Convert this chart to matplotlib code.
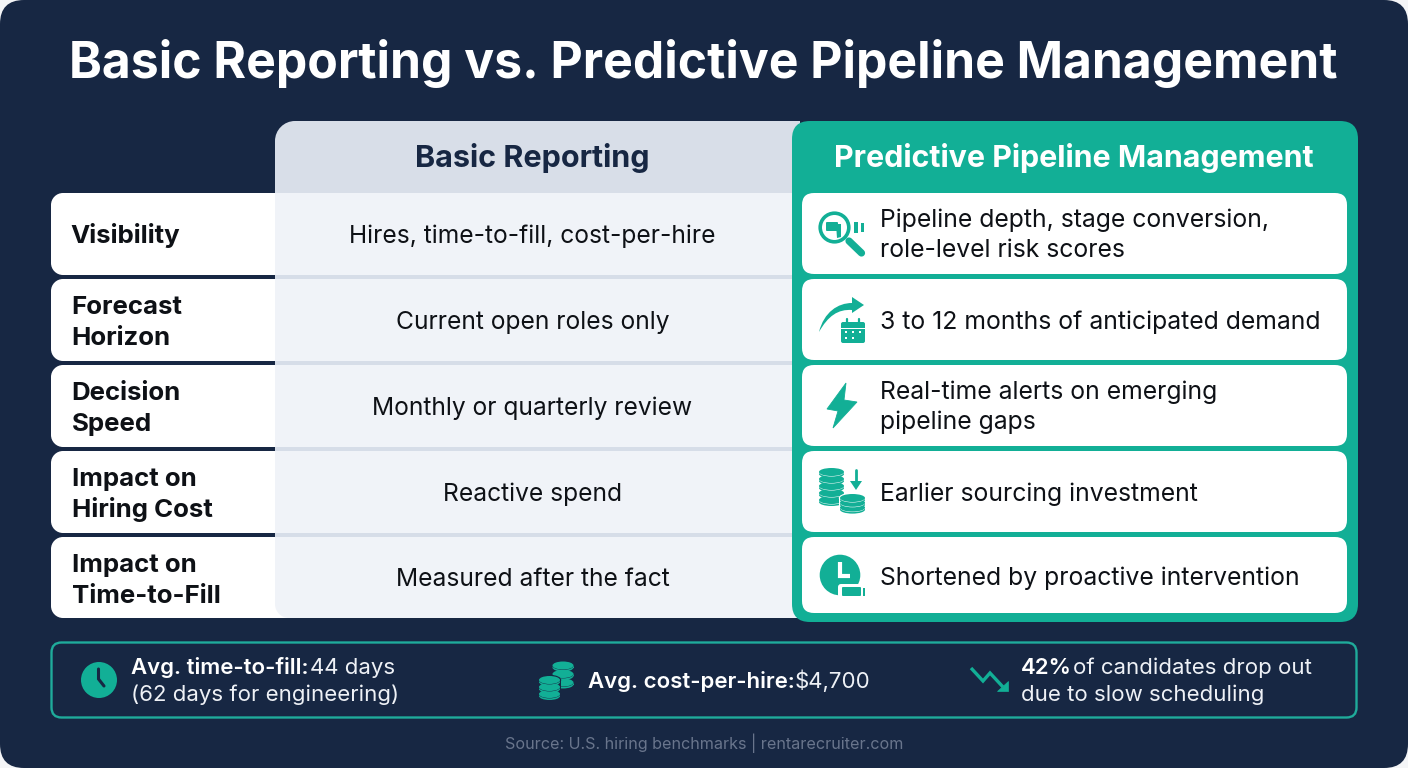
import numpy as np
import matplotlib
matplotlib.use("Agg")
import matplotlib.pyplot as plt
from matplotlib.patches import FancyBboxPatch, Rectangle, Circle, Polygon, Ellipse, PathPatch
from matplotlib.path import Path

TITLE = "Basic Reporting vs. Predictive Pipeline Management"
COL_BASIC = "Basic Reporting"
COL_PRED = "Predictive Pipeline Management"
ROW_LABELS = ["Visibility", "Forecast\nHorizon", "Decision\nSpeed", "Impact on\nHiring Cost", "Impact on\nTime-to-Fill"]
BASIC_VALUES = ["Hires, time-to-fill, cost-per-hire", "Current open roles only", "Monthly or quarterly review",
                "Reactive spend", "Measured after the fact"]
PRED_VALUES = ["Pipeline depth, stage conversion,\nrole-level risk scores", "3 to 12 months of anticipated demand",
               "Real-time alerts on emerging\npipeline gaps", "Earlier sourcing investment",
               "Shortened by proactive intervention"]
SOURCE = "Source: U.S. hiring benchmarks | rentarecruiter.com"

NAVY = "#172743"; TEAL = "#12AF96"; WHITE = "#FFFFFF"; INK = "#0E1116"
HEAD_GREY = "#D8DEE8"; PANEL = "#F0F3F8"; RULE = "#D6DDE8"; SOFT = "#EEF1F6"
FONT = "Inter"
W, H = 1408, 768
fig = plt.figure(figsize=(W/100, H/100), dpi=100, facecolor="#F4F5F7")
ax = fig.add_axes([0, 0, 1, 1]); ax.set_xlim(0, W); ax.set_ylim(H, 0); ax.axis("off")

def rbox(x0, y0, x1, y1, r, fc, ec="none", lw=0, z=1):
    p = FancyBboxPatch((x0+r, y0+r), x1-x0-2*r, y1-y0-2*r, boxstyle=f"round,pad={r},rounding_size={r}",
                       fc=fc, ec=ec, lw=lw, zorder=z, mutation_aspect=1)
    ax.add_patch(p); return p

def partial(x0, y0, x1, y1, r, corners, fc, z=1):
    tl, tr, br, bl = [r if c else 0 for c in corners]
    k = 0.5523
    v = [(x0+tl, y0), (x1-tr, y0), (x1-tr+k*tr, y0), (x1, y0+tr-k*tr), (x1, y0+tr), (x1, y1-br),
         (x1, y1-br+k*br), (x1-br+k*br, y1), (x1-br, y1), (x0+bl, y1), (x0+bl-k*bl, y1), (x0, y1-bl+k*bl),
         (x0, y1-bl), (x0, y0+tl), (x0, y0+tl-k*tl), (x0+tl-k*tl, y0), (x0+tl, y0), (x0+tl, y0)]
    c = [Path.MOVETO, Path.LINETO, Path.CURVE4, Path.CURVE4, Path.CURVE4, Path.LINETO, Path.CURVE4, Path.CURVE4,
         Path.CURVE4, Path.LINETO, Path.CURVE4, Path.CURVE4, Path.CURVE4, Path.LINETO, Path.CURVE4, Path.CURVE4,
         Path.CURVE4, Path.CLOSEPOLY]
    ax.add_patch(PathPatch(Path(v, c), fc=fc, ec="none", lw=0, zorder=z))

def text(x, y, s, size, color=INK, weight="regular", ha="left", va="center", z=6):
    return ax.text(x, y + 2, s, fontsize=size, color=color, fontweight=weight, ha=ha, va=va, family=FONT, zorder=z)

def base(x, y, s, size, color=INK, weight="regular", z=6):
    return ax.text(x, y, s, fontsize=size, color=color, fontweight=weight, ha="left", va="baseline", family=FONT, zorder=z)

# background
rbox(0, 0, W, H, 24, NAVY, z=0)
text(703, 62, TITLE, 35.9, WHITE, "bold", ha="center")

ROW_TOPS = [193 + 86*i for i in range(5)]
ROW_H = 82

# basic panel
partial(275, 121, 800, 193, 20, (1, 0, 0, 0), HEAD_GREY, 1)
partial(275, 193, 800, 618, 14, (0, 0, 0, 1), PANEL, 1)
text(532, 156, COL_BASIC, 22, NAVY, "bold", ha="center")

# row labels
for i, (top, lab, val) in enumerate(zip(ROW_TOPS, ROW_LABELS, BASIC_VALUES)):
    bottom = 618 if i == 4 else top + ROW_H
    partial(51, top, 295 if i == 4 else 275, bottom, 12, (1, 0, 0, 1), WHITE, 0.5)
    if i < 4:
        ax.add_patch(Rectangle((275, top+ROW_H), 525, 4, fc=RULE, ec="none", zorder=2))
    parts = lab.split("\n")
    x = 71.5 if i < 3 else 71.8
    if len(parts) == 1:
        base(x - 1, top + 50, parts[0], 18.6, INK, "bold")
    else:
        base(x, top + 35, parts[0], 18.6, INK, "bold")
        base(x, top + 66, parts[1], 18.6, INK, "bold")
    text(532.5, top + ROW_H/2, val, 17.7, INK, ha="center")

# predictive panel
rbox(792, 121, 1358, 622, 18, TEAL, z=3)
text(1074, 156, COL_PRED, 21.9, WHITE, "bold", ha="center")
for i, (top, val) in enumerate(zip(ROW_TOPS, PRED_VALUES)):
    bot = top + (76 if i == 4 else ROW_H - 1)
    rbox(802, top, 1347, bot, 12, WHITE, z=4)
    parts = val.split("\n")
    if len(parts) == 1:
        text(880, (top+bot)/2 + 1, val, 17.8, INK)
    else:
        b0 = top + (34 if i == 0 else 33.5)
        base(879.5, b0, parts[0], 17.8)
        base(879.5, b0 + 30, parts[1], 17.8)

def line(xs, ys, lw, color=TEAL, z=7, cap="round"):
    ax.plot(xs, ys, color=color, lw=lw, solid_capstyle=cap, solid_joinstyle="miter", zorder=z)

def coin_stack(cx, top, rx, ry, n, gap, z=7, color=TEAL, bg=WHITE, sep=1.0):
    ax.add_patch(Rectangle((cx-rx-1.2, top), 2*rx+2.4, (n-1)*gap+ry*0.5, fc=bg, ec="none", zorder=z))
    ax.add_patch(Ellipse((cx, top), 2*rx+2.4, 2*ry+2.4, fc=bg, ec="none", zorder=z))
    ax.add_patch(Ellipse((cx, top+(n-1)*gap+ry*0.5), 2*rx+2.4, 2*ry+2.4, fc=bg, ec="none", zorder=z))
    for j in range(n-1, -1, -1):
        y = top + j*gap
        ax.add_patch(Rectangle((cx-rx, y), 2*rx, ry*0.5, fc=color, ec="none", zorder=z))
        ax.add_patch(Ellipse((cx, y+ry*0.5), 2*rx, 2*ry, fc=color, ec="none", zorder=z))
        ax.add_patch(Ellipse((cx, y), 2*rx+0.5, 2*ry+sep, fc=bg, ec="none", zorder=z))
        ax.add_patch(Ellipse((cx, y), 2*rx, 2*ry, fc=color, ec="none", zorder=z))

# magnifier with thumb
ax.add_patch(Circle((834.5, 227.5), 14.3, fc=WHITE, ec=TEAL, lw=2.6, zorder=7))
ax.add_patch(FancyBboxPatch((827, 223), 10, 7, boxstyle="round,pad=1", fc=TEAL, ec="none", zorder=8))
ax.add_patch(Polygon([(836, 224), (841, 224), (841, 237), (837, 238)], fc=TEAL, ec="none", zorder=8))
line([849, 861.5], [241, 253], 5.2)
ax.add_patch(Rectangle((854, 222), 4, 10.5, fc=TEAL, ec="none", zorder=7))
ax.add_patch(Rectangle((861, 222.5), 3, 9.5, fc=TEAL, ec="none", zorder=7))

# curved arrow + calendar
arr = Path([(819, 332), (824, 312), (838, 303), (852, 303), (852, 297), (864, 305), (852, 313), (852, 310),
            (838, 309), (828, 316), (819, 332)],
           [Path.MOVETO, Path.CURVE4, Path.CURVE4, Path.CURVE4, Path.LINETO, Path.LINETO, Path.LINETO, Path.LINETO,
            Path.CURVE4, Path.CURVE4, Path.CURVE4])
ax.add_patch(PathPatch(arr, fc=TEAL, ec="none", zorder=7))
rbox(841, 322, 865, 343, 2, TEAL, z=7)
ax.add_patch(Rectangle((841, 327.5), 24, 1, fc=WHITE, ec="none", zorder=8))
line([847, 847], [319, 323], 1.6); line([859, 859], [319, 323], 1.6)
for yy in (332, 338):
    for xx in (846, 853, 860):
        if yy == 338 and xx == 860:
            continue
        ax.add_patch(Rectangle((xx-1.2, yy-1.2), 2.6, 2.4, fc=WHITE, ec="none", zorder=8))

# lightning bolt
ax.add_patch(Polygon([(846, 383), (827, 409), (838, 411), (833, 428), (857, 402), (844, 400)], fc=TEAL, ec=TEAL, lw=0.6, zorder=7))

# coin stacks with down arrow
coin_stack(831.5, 472, 12.5, 4, 5, 7)
coin_stack(852.5, 498, 12.5, 4, 3, 4.8, z=8)
line([856, 856], [470, 484], 2)
ax.add_patch(Polygon([(850, 481), (862, 481), (856, 490)], fc=TEAL, ec="none", zorder=7))

# clock
ax.add_patch(Circle((840, 575), 20.3, fc=TEAL, ec="none", zorder=7))
line([840, 840, 850], [562, 576, 576], 3, color=WHITE, z=8, cap="butt")
rbox(838, 584, 867, 598, 3, WHITE, z=8)
rbox(842, 587, 861, 596, 1, TEAL, z=9)
ax.add_patch(Rectangle((862.5, 587.5), 2.7, 8.5, fc=TEAL, ec="none", zorder=9))

# stat strip
rbox(51.5, 642.5, 1356.5, 717.5, 10, "none", ec="#1FAB9B", lw=1.7, z=3)
ax.add_patch(Circle((99, 680), 18, fc=TEAL, ec="none", zorder=7))
line([98.5, 98.5, 104], [669, 679, 686], 2.2, color=NAVY, z=8)
text(131, 666, "Avg. time-to-fill:", 16, WHITE, "semibold")
text(310, 666, "44 days", 16, SOFT)
text(131, 693, "(62 days for engineering)", 16, SOFT)
coin_stack(563, 665.5, 10.5, 4, 3, 8.5, bg=NAVY, sep=0.8)
coin_stack(549.5, 680, 10.5, 4, 3, 7, z=8, bg=NAVY, sep=0.8)
text(588, 679, "Avg. cost-per-hire:", 16, WHITE, "semibold")
text(795, 679, "$4,700", 16, SOFT)
line([971, 983, 990, 1003], [668, 681, 673, 687], 2.4, cap="butt")
ax.add_patch(Polygon([(997, 691), (1008, 691), (1008, 681)], fc=TEAL, ec=TEAL, lw=0.5, zorder=7))
text(1021, 666, "42%", 16, WHITE, "semibold")
text(1073, 666, "of candidates drop out", 16, SOFT)
text(1021, 693, "due to slow scheduling", 16, SOFT)

text(704, 741, SOURCE, 11.6, "#69758C", ha="center")
fig.savefig("out.png", dpi=100, facecolor=fig.get_facecolor())
